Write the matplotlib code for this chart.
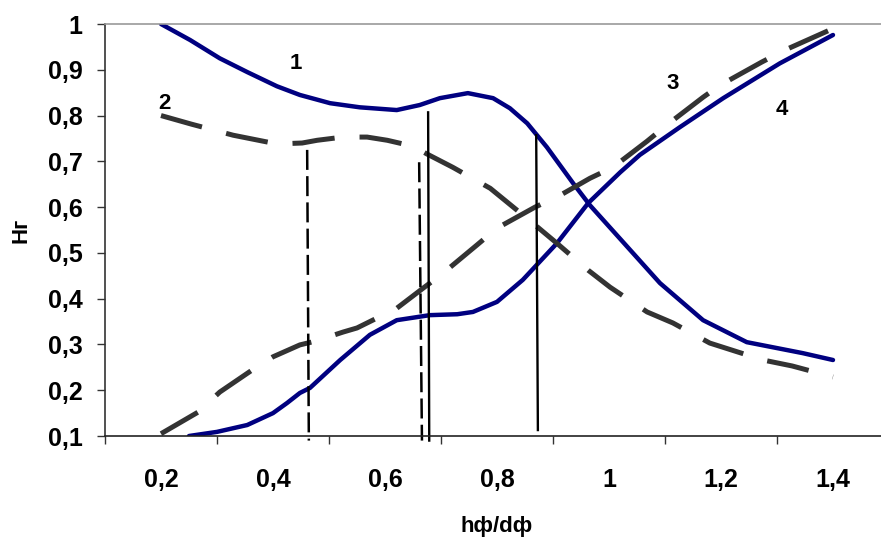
import numpy as np
import matplotlib.pyplot as plt
from matplotlib.ticker import FixedLocator, FuncFormatter

plt.rcParams['font.family'] = ['Liberation Sans', 'DejaVu Sans']
plt.rcParams['font.weight'] = 'bold'

# krzywa 1 (ciagla, malejaca)
x1 = [0.2, 0.252, 0.305, 0.354, 0.407, 0.448, 0.502, 0.555, 0.621, 0.662, 0.698,
      0.748, 0.793, 0.823, 0.854, 0.889, 0.936, 0.966, 1.091, 1.168, 1.246, 1.346, 1.4]
y1 = [1.0, 0.965, 0.925, 0.895, 0.864, 0.845, 0.827, 0.818, 0.812, 0.823, 0.838,
      0.849, 0.838, 0.816, 0.783, 0.731, 0.652, 0.604, 0.434, 0.353, 0.305, 0.281, 0.266]

# krzywa 2 (przerywana, malejaca)
x2 = [0.2, 0.255, 0.329, 0.407, 0.452, 0.479, 0.525, 0.568, 0.604, 0.65, 0.675,
      0.721, 0.788, 0.864, 0.907, 0.963, 1.002, 1.068, 1.114, 1.18, 1.275, 1.327, 1.4]
y2 = [0.8, 0.781, 0.757, 0.738, 0.74, 0.746, 0.753, 0.753, 0.746, 0.733, 0.716,
      0.687, 0.641, 0.565, 0.521, 0.462, 0.425, 0.371, 0.347, 0.303, 0.266, 0.253, 0.229]

# krzywa 3 (przerywana, rosnaca)
x3 = [0.2, 0.266, 0.305, 0.371, 0.4, 0.448, 0.475, 0.525, 0.55, 0.621, 0.666, 0.704,
      0.764, 0.8, 0.868, 0.913, 0.966, 1.007, 1.068, 1.105, 1.168, 1.198, 1.273, 1.314, 1.4]
y3 = [0.105, 0.152, 0.196, 0.251, 0.273, 0.299, 0.307, 0.327, 0.336, 0.379, 0.421, 0.456,
      0.517, 0.554, 0.6, 0.626, 0.663, 0.687, 0.744, 0.781, 0.84, 0.866, 0.917, 0.943, 0.99]

# krzywa 4 (ciagla, rosnaca)
x4 = [0.25, 0.3, 0.354, 0.4, 0.425, 0.448, 0.466, 0.52, 0.573, 0.621, 0.68, 0.729,
      0.757, 0.8, 0.846, 0.907, 0.963, 1.02, 1.055, 1.127, 1.204, 1.305, 1.4]
y4 = [0.1, 0.109, 0.124, 0.15, 0.172, 0.194, 0.205, 0.266, 0.321, 0.353, 0.364, 0.366,
      0.371, 0.393, 0.441, 0.521, 0.609, 0.676, 0.714, 0.775, 0.838, 0.914, 0.976]

# linie pionowe: (x_gora, y_gora, x_dol, y_dol)
pion_przer = [(0.461, 0.725, 0.464, 0.09), (0.661, 0.698, 0.666, 0.09)]
pion_ciagle = [(0.677, 0.807, 0.679, 0.09), (0.870, 0.757, 0.873, 0.113)]

etykiety = [('1', 0.441, 0.914), ('2', 0.207, 0.827), ('3', 1.114, 0.871), ('4', 1.309, 0.814)]

xticks = [0.2, 0.4, 0.6, 0.8, 1.0, 1.2, 1.4]
yticks = [0.1, 0.2, 0.3, 0.4, 0.5, 0.6, 0.7, 0.8, 0.9, 1.0]


def przecinek(v, pos):
    s = ('%.1f' % v).rstrip('0').rstrip('.')
    return s.replace('.', ',')


fig = plt.figure(figsize=(8.81, 5.39), dpi=100)
ax = fig.add_axes([105 / 881, 103 / 539, 784 / 881, 412 / 539])

niebieski = '#000080'
szary = '#333333'
ax.plot(x1, y1, color=niebieski, lw=3.2, solid_capstyle='round', solid_joinstyle='round')
ax.plot(x4, y4, color=niebieski, lw=3.2, solid_capstyle='round', solid_joinstyle='round')
ax.plot(x2, y2, color=szary, lw=3.6, dashes=(8.5, 5), dash_capstyle='butt')
ax.plot(x3, y3, color=szary, lw=3.6, dashes=(8.5, 5), dash_capstyle='butt')

for xa, ya, xb, yb in pion_przer:
    ax.plot([xa, xb], [ya, yb], color='black', lw=1.8, dashes=(8, 2.5), clip_on=False)
for xa, ya, xb, yb in pion_ciagle:
    ax.plot([xa, xb], [ya, yb], color='black', lw=1.7, clip_on=False)

for t, xt, yt in etykiety:
    ax.text(xt, yt, t, fontsize=16, fontweight='bold', ha='center', va='center')

ax.set_xlim(0.1, 1.5)
ax.set_ylim(0.1, 1.0)

ax.xaxis.set_major_locator(FixedLocator(xticks))
ax.xaxis.set_minor_locator(FixedLocator(np.arange(0.1, 1.51, 0.2)))
ax.xaxis.set_major_formatter(FuncFormatter(przecinek))
ax.tick_params(axis='x', which='major', length=0, pad=23, labelsize=18)
ax.tick_params(axis='x', which='minor', length=6, width=1, color='#333333')

ax.yaxis.set_major_locator(FixedLocator(yticks))
ax.yaxis.set_major_formatter(FuncFormatter(przecinek))
ax.tick_params(axis='y', length=6, width=1, color='#333333', pad=10, labelsize=18)

ax.spines['top'].set_color('#999999')
ax.spines['top'].set_linewidth(1.2)
ax.spines['right'].set_visible(False)
ax.spines['left'].set_color('#333333')
ax.spines['left'].set_linewidth(1.2)
ax.spines['bottom'].set_color('#222222')
ax.spines['bottom'].set_linewidth(1.2)

ax.set_xlabel('hф/dф', fontsize=16, fontweight='bold', labelpad=17)
ax.set_ylabel('Hг', fontsize=16, fontweight='bold', labelpad=12)

fig.savefig('out.png', dpi=100)
